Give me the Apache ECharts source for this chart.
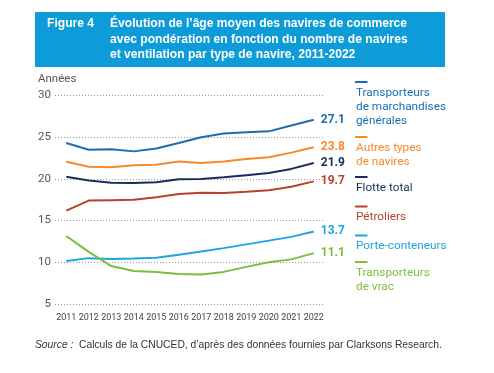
<!DOCTYPE html>
<html><head><meta charset="utf-8">
<script src="https://cdn.jsdelivr.net/npm/echarts@6/dist/echarts.min.js"></script>
<style>html,body{margin:0;padding:0;background:#fff}#c{width:494px;height:373px}</style>
</head><body><div id="c"></div>
<script>
const years = ['2011','2012','2013','2014','2015','2016','2017','2018','2019','2020','2021','2022'];
const seriesNames = ['Transporteurs de marchandises générales','Autres types de navires','Flotte total','Pétroliers','Porte-conteneurs','Transporteurs de vrac'];
const legendLines = [['Transporteurs','de marchandises','générales'],['Autres types','de navires'],['Flotte total'],['Pétroliers'],['Porte-conteneurs'],['Transporteurs','de vrac']];
const colors = ['#1b6db3','#f7892b','#1a2b5c','#b4432b','#1ea5e0','#79bf3c'];
const generalCargo = [24.3,23.5,23.55,23.3,23.65,24.3,25.0,25.45,25.6,25.7,26.4,27.1];
const otherTypes   = [22.05,21.45,21.4,21.65,21.7,22.1,21.9,22.1,22.4,22.6,23.15,23.8];
const totalFleet   = [20.25,19.8,19.55,19.5,19.6,19.95,20.0,20.2,20.45,20.7,21.2,21.9];
const tankers      = [16.2,17.4,17.45,17.5,17.8,18.2,18.35,18.3,18.45,18.65,19.05,19.7];
const containers   = [10.15,10.5,10.4,10.45,10.55,10.9,11.3,11.7,12.15,12.6,13.05,13.7];
const bulkCarriers = [13.15,11.25,9.55,8.95,8.85,8.6,8.55,8.85,9.45,10.0,10.35,11.1];
const allData = [generalCargo,otherTypes,totalFleet,tankers,containers,bulkCarriers];

const chart = echarts.init(document.getElementById('c'));
const series = allData.map((d,i)=>({
  name: seriesNames[i], type:'line', data:d, symbol:'none', smooth:false,
  lineStyle:{width:2,color:colors[i]}, itemStyle:{color:colors[i]},
  endLabel:{show:true, distance:7, formatter:(p)=>p.value.toFixed(1), color:colors[i],
    fontFamily:'Roboto', fontWeight:'bold', fontSize:12}
}));

const titleFont = 'bold 12.1px "Liberation Sans", Arial';
const legendMarkY = [82, 137, 177, 206.5, 235.5, 262];
const graphics = [
  {type:'rect', shape:{x:35,y:12,width:410,height:55}, style:{fill:'#0e9cd8'}},
  {type:'text', x:47, y:24, style:{text:'Figure 4', fill:'#fff', font:titleFont, verticalAlign:'middle'}},
  {type:'text', x:110, y:24, style:{text:'Évolution de l’âge moyen des navires de commerce', fill:'#fff', font:titleFont, verticalAlign:'middle'}},
  {type:'text', x:110, y:39.5, style:{text:'avec pondération en fonction du nombre de navires', fill:'#fff', font:titleFont, verticalAlign:'middle'}},
  {type:'text', x:110, y:55, style:{text:'et ventilation par type de navire, 2011-2022', fill:'#fff', font:titleFont, verticalAlign:'middle'}},
  {type:'text', x:38, y:79, style:{text:'Années', fill:'#555', font:'11.5px Roboto', verticalAlign:'middle'}},
  {type:'text', x:35, y:345, style:{text:'Source :', fill:'#333', font:'italic 10.3px "Liberation Sans", Arial', verticalAlign:'middle'}},
  {type:'text', x:79, y:345, style:{text:'Calculs de la CNUCED, d’après des données fournies par Clarksons Research.', fill:'#333', font:'10.3px "Liberation Sans", Arial', verticalAlign:'middle'}}
];
legendLines.forEach((lines,i)=>{
  graphics.push({type:'rect', shape:{x:355,y:legendMarkY[i]-1,width:12.5,height:2}, style:{fill:colors[i]}});
  lines.forEach((t,j)=>{
    graphics.push({type:'text', x:356, y:legendMarkY[i]+11+j*14, style:{text:t, fill:colors[i], font:'11.8px Roboto', verticalAlign:'middle'}});
  });
});

chart.setOption({
  animation:false,
  grid:{left:55, right:169, top:95.5, bottom:69},
  xAxis:{type:'category', data:years, boundaryGap:true,
    axisLine:{show:false}, axisTick:{show:false},
    axisLabel:{color:'#444', fontSize:9, fontFamily:'Roboto', margin:9, interval:0}},
  yAxis:{type:'value', min:5, max:30, interval:5,
    axisLine:{show:false}, axisTick:{show:false},
    axisLabel:{color:'#555', fontSize:11.5, fontFamily:'Roboto', margin:4},
    splitLine:{show:true, lineStyle:{type:[1,2], color:'#999', width:1}}},
  series: series,
  graphic: graphics
});
</script></body></html>
